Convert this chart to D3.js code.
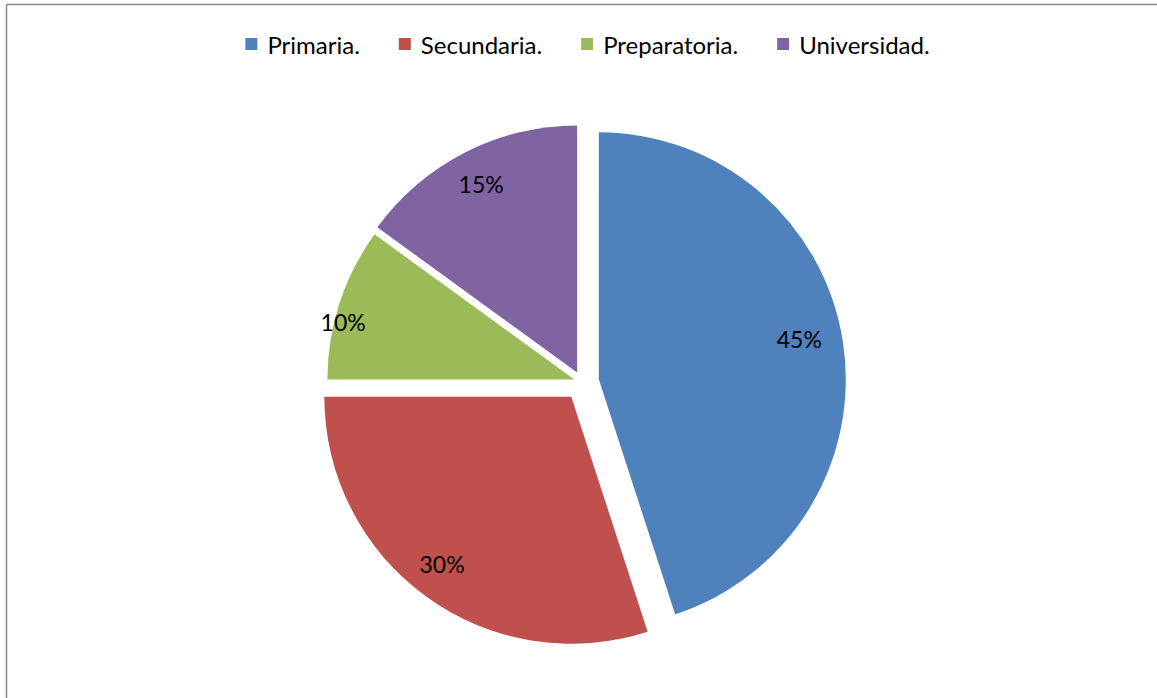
<!DOCTYPE html>
<html>
<head>
<meta charset="utf-8">
<script src="https://cdn.jsdelivr.net/npm/d3@7"></script>
<style>
  html, body { margin: 0; padding: 0; background: #fff; }
  svg { display: block; }
  text { font-family: Lato, "Open Sans", sans-serif; fill: #000; }
</style>
</head>
<body>
<svg id="chart" width="1157" height="698"></svg>
<script>
// ---- data ----
const categories = ["Primaria.", "Secundaria.", "Preparatoria.", "Universidad."];
const values = [45, 30, 10, 15];
const labels = ["45%", "30%", "10%", "15%"];

// ---- style ----
const colors = ["#4F81BD", "#C0504D", "#9BBB59", "#8064A2"];
const explode = [17, 18.2, 8, 10.7];             // radial pull-out per slice (px)
const labelRadius = [0.828, 0.856, 0.965, 0.856]; // label distance as fraction of radius
const labelShiftDeg = [-2.4, 1.7, -4, 0];         // label angular nudge from slice bisector

const W = 1157, H = 698;
const cx = 582, cy = 382, R = 247;
const labelFont = 23, legendFont = 24;

const svg = d3.select("#chart");

// frame (top and left edges visible)
svg.append("line").attr("x1", 6.5).attr("y1", 4.5).attr("x2", W).attr("y2", 4.5)
  .attr("stroke", "#8a8a8a").attr("stroke-width", 1.5);
svg.append("line").attr("x1", 6.5).attr("y1", 4.5).attr("x2", 6.5).attr("y2", H)
  .attr("stroke", "#8a8a8a").attr("stroke-width", 1.5);

// pie
const pie = d3.pie().sort(null).value(d => d.v);
const data = pie(values.map((v, i) => ({ v, i })));
const arc = d3.arc().innerRadius(0).outerRadius(R);

const g = svg.append("g").attr("transform", `translate(${cx},${cy})`);

const slices = g.selectAll("g.slice").data(data).join("g")
  .attr("class", "slice")
  .attr("transform", d => {
    const a = (d.startAngle + d.endAngle) / 2;
    const e = explode[d.data.i];
    return `translate(${e * Math.sin(a)},${-e * Math.cos(a)})`;
  });

slices.append("path")
  .attr("d", arc)
  .attr("fill", d => colors[d.data.i]);

const labAng = d => (d.startAngle + d.endAngle) / 2 + labelShiftDeg[d.data.i] * Math.PI / 180;
slices.append("text")
  .attr("x", d => Math.sin(labAng(d)) * R * labelRadius[d.data.i])
  .attr("y", d => -Math.cos(labAng(d)) * R * labelRadius[d.data.i])
  .attr("text-anchor", "middle")
  .attr("dominant-baseline", "central")
  .attr("font-size", labelFont)
  .text(d => labels[d.data.i]);

// legend
const legend = svg.append("g");
const sq = 12, gapText = 10, spacing = 39;
const items = legend.selectAll("g").data(categories).join("g");
items.append("rect").attr("width", sq).attr("height", sq)
  .attr("y", 38).attr("fill", (d, i) => colors[i]);
items.append("text").attr("x", sq + gapText).attr("y", 44)
  .attr("dominant-baseline", "central")
  .attr("font-size", legendFont)
  .text(d => d);

let widths = [];
items.each(function () {
  widths.push(d3.select(this).select("text").node().getComputedTextLength() + sq + gapText);
});
const total = d3.sum(widths) + spacing * (widths.length - 1);
let x0 = 587.5 - total / 2;
items.attr("transform", (d, i) => {
  const t = `translate(${x0},0)`;
  x0 += widths[i] + spacing;
  return t;
});
</script>
</body>
</html>
